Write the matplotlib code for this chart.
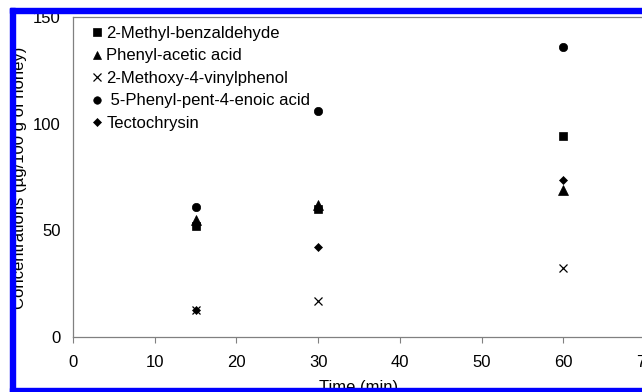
#!/usr/bin/env python3
"""Honey compound concentrations versus extraction time."""

import matplotlib as mpl

mpl.use("Agg")

import matplotlib.pyplot as plt
from matplotlib.patches import Rectangle

plt.rcParams["font.family"] = ["Liberation Sans", "DejaVu Sans"]

times = [15, 30, 60]
methyl_benzaldehyde = [52, 60, 94]
phenyl_acetic = [55, 62, 69]
methoxy_vinylphenol = [12.5, 17, 32.5]
phenyl_pentenoic = [61, 106, 136]
tectochrysin = [12.5, 42, 73.5]

labels = [
    "2-Methyl-benzaldehyde",
    "Phenyl-acetic acid",
    "2-Methoxy-4-vinylphenol",
    " 5-Phenyl-pent-4-enoic acid",
    "Tectochrysin",
]
x_ticks = [0, 10, 20, 30, 40, 50, 60, 70]
y_ticks = [0, 50, 100, 150]

W, H = 642, 392
fig = plt.figure(figsize=(W / 100, H / 100), dpi=100)
ax = fig.add_axes([73 / W, (H - 337) / H, 572 / W, 320 / H])

series = [
    (methyl_benzaldehyde, "s", 6.0),
    (phenyl_acetic, "^", 6.5),
    (methoxy_vinylphenol, "x", 6.0),
    (phenyl_pentenoic, "o", 6.0),
    (tectochrysin, "D", 4.5),
]
for (values, marker, size), label in zip(series, labels):
    ax.plot(times, values, linestyle="none", marker=marker, markersize=size,
            color="black", markeredgewidth=0.9 if marker == "x" else 0.5,
            label=label)

ax.set_xlim(0, 70)
ax.set_ylim(0, 150)
ax.set_xticks(x_ticks)
ax.set_yticks(y_ticks)
ax.tick_params(axis="x", direction="out", length=4, width=0.8, color="#808080",
               labelsize=12, pad=9)
ax.tick_params(axis="y", length=0, labelsize=12, pad=9)
for side in ("left", "bottom", "top", "right"):
    ax.spines[side].set_color("#808080")
    ax.spines[side].set_linewidth(0.9)

leg = ax.legend(loc="upper left", bbox_to_anchor=(0.035, 0.972), frameon=False,
                fontsize=12, handlelength=0.5, handletextpad=0.3,
                labelspacing=0.45, borderpad=0, borderaxespad=0, markerscale=0.9)

ax.set_xlabel("Time (min)", fontsize=12, labelpad=7)
fig.text(20 / W, (H - 178) / H, "Concentrations (\u00b5g/100 g of honey)",
         rotation=90, ha="center", va="center", fontsize=12)

# cropped-screenshot border
border = dict(transform=fig.transFigure, zorder=100, clip_on=False)
fig.add_artist(Rectangle((0, (H - 8) / H), 1, 8 / H, color="white", **border))
fig.add_artist(Rectangle((0, 0), 10 / W, 1, color="white", **border))
fig.add_artist(Rectangle((10 / W, (H - 13) / H), 1, 5 / H, color="#0000ff", **border))
fig.add_artist(Rectangle((10 / W, 0), 5 / W, (H - 8) / H, color="#0000ff", **border))
fig.add_artist(Rectangle((10 / W, 0), 1, 4 / H, color="#0000ff", **border))

fig.savefig("out.png", dpi=100)
